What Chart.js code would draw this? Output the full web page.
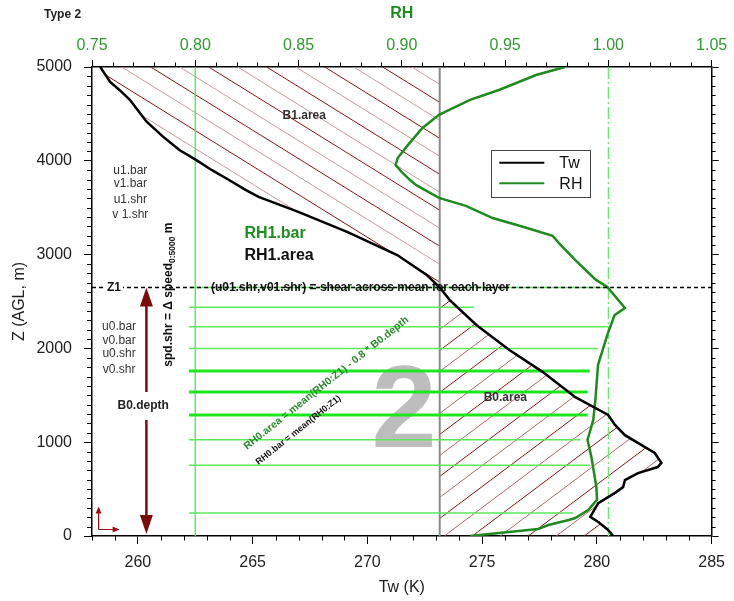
<!DOCTYPE html>
<html>
<head>
<meta charset="utf-8">
<script src="https://cdn.jsdelivr.net/npm/chart.js@4.4.0/dist/chart.umd.min.js"></script>
<style>
  html, body { margin: 0; padding: 0; background: #fff; }
  #wrap { width: 734px; height: 601px; }
</style>
</head>
<body>
<div id="wrap"><canvas id="myChart"></canvas></div>
<script>
const FONT = 'Arial, "Liberation Sans", sans-serif';

// wet-bulb temperature profile (K) vs height (m AGL)
const twZ = [5000, 4840, 4750, 4650, 4420, 4260, 4115, 4010, 3900, 3795, 3690, 3615, 3455, 3240, 2995, 2780, 2650, 2515, 2250, 1985,
  1750, 1480, 1290, 1185, 1075, 885, 780, 735, 670, 595, 520, 460, 350, 205, 150, 65, 0];
const twK = [258.36, 258.79, 259.22, 259.65, 260.37, 261.08, 261.81, 262.53, 263.23, 263.97, 264.69, 265.26, 266.99, 269.14, 271.30, 272.60, 273.15, 273.59, 274.75, 276.17,
  277.63, 279.06, 280.49, 280.79, 281.22, 282.52, 282.81, 282.65, 281.79, 281.22, 281.14, 280.79, 280.06, 279.71, 280.06, 280.49, 280.71];

// relative humidity profile
const rhZ = [5000, 4915, 4755, 4650, 4490, 4350, 4170, 4030, 3955, 3880, 3795, 3740, 3605, 3520, 3390, 3295, 3200, 3100, 2940, 2730,
  2655, 2430, 2355, 2145, 1825, 1450, 1240, 1130, 1025, 840, 520, 385, 277, 192, 171, 117, 75, 32, 0];
const rhV = [0.979, 0.965, 0.947, 0.933, 0.918, 0.910, 0.903, 0.898, 0.897, 0.900, 0.904, 0.907, 0.918, 0.931, 0.944, 0.959, 0.973, 0.977, 0.984, 0.994,
  0.9995, 1.008, 1.003, 0.9995, 0.995, 0.9937, 0.9927, 0.9913, 0.9899, 0.9918, 0.9942, 0.9945, 0.9902, 0.984, 0.9808, 0.971, 0.966, 0.947, 0.933];

// RH sample levels below Z1
const levelZ = [2650, 2440, 2230, 2000, 1760, 1535, 1290, 1025, 755, 245];
const levelRH = [1.0, 0.935, 1.0, 0.995, 0.991, 0.990, 0.990, 0.9865, 0.991, 0.983];
const levelWide = [false, false, false, false, true, true, true, false, false, false];
const levelStart = 0.797;

// reference values
const z1 = 2650;
const freezeK = 273.15;
const rhRefs = [0.80, 1.00];

// tick labels
const twTicks = [260, 265, 270, 275, 280, 285];
const rhTicks = [0.75, 0.80, 0.85, 0.90, 0.95, 1.00, 1.05];
const zTicks = [0, 1000, 2000, 3000, 4000, 5000];

function levelData(wide) {
  const out = [];
  levelZ.forEach((z, i) => {
    if (levelWide[i] !== wide) return;
    out.push({x: levelStart, y: z}, {x: levelRH[i], y: z}, {x: null, y: null});
  });
  return out;
}

function hatch(ctx, poly, slope, gap, up, colors) {
  ctx.save();
  ctx.beginPath();
  poly.forEach((p, i) => i ? ctx.lineTo(p.x, p.y) : ctx.moveTo(p.x, p.y));
  ctx.closePath();
  ctx.clip();
  const xs = poly.map(p => p.x), ys = poly.map(p => p.y);
  const x0 = Math.min(...xs), x1 = Math.max(...xs), y0 = Math.min(...ys), y1 = Math.max(...ys);
  const run = (y1 - y0) / slope;
  ctx.lineWidth = 1;
  let k = 0;
  for (let sx = x0 - run; sx <= x1; sx += gap, k++) {
    ctx.strokeStyle = colors[k % colors.length];
    ctx.beginPath();
    if (up) { ctx.moveTo(sx, y1); ctx.lineTo(sx + run, y0); }
    else { ctx.moveTo(sx, y0); ctx.lineTo(sx + run, y1); }
    ctx.stroke();
  }
  ctx.restore();
}

function arrowHead(ctx, x, tipY, dir) {
  ctx.beginPath();
  ctx.moveTo(x, tipY);
  ctx.lineTo(x - 6.5, tipY + dir * 19);
  ctx.lineTo(x + 6.5, tipY + dir * 19);
  ctx.closePath();
  ctx.fill();
}

function rotText(ctx, txt, x, y, deg, font, color) {
  ctx.save();
  ctx.translate(x, y);
  ctx.rotate(deg * Math.PI / 180);
  ctx.font = font;
  ctx.fillStyle = color;
  ctx.textAlign = 'left';
  ctx.textBaseline = 'alphabetic';
  ctx.fillText(txt, 0, 0);
  ctx.restore();
}

const sounding = {
  id: 'sounding',
  beforeDatasetsDraw(chart) {
    const {ctx, chartArea: a, scales} = chart;
    const X = v => scales.x.getPixelForValue(v);
    const R = v => scales.rh.getPixelForValue(v);
    const Y = v => scales.y.getPixelForValue(v);
    ctx.save();

    // B1 / B0 hatched areas between Tw and 0 degC
    const pts = chart.getDatasetMeta(0).data;
    const iz = twZ.indexOf(z1);
    const above = pts.slice(0, iz + 1).map(p => ({x: p.x, y: p.y}));
    above.push({x: X(freezeK), y: Y(5000)});
    const below = pts.slice(iz).map(p => ({x: p.x, y: p.y}));
    below.push({x: X(freezeK), y: Y(0)});
    hatch(ctx, above, 0.62, 29, false, ['#8b1414', '#c99a9a']);
    hatch(ctx, below, 0.75, 28, true, ['#b06a6a', '#8b1414']);

    // big type number
    ctx.fillStyle = '#bdbdbd';
    ctx.font = 'bold 117px ' + FONT;
    ctx.textAlign = 'center';
    ctx.textBaseline = 'alphabetic';
    ctx.fillText('2', X(271.6), Y(950));

    // 0 degC line
    ctx.strokeStyle = '#8a8a8a';
    ctx.lineWidth = 2;
    ctx.beginPath();
    ctx.moveTo(X(freezeK), a.top); ctx.lineTo(X(freezeK), a.bottom);
    ctx.stroke();

    // RH reference lines
    ctx.strokeStyle = '#3ef03e';
    ctx.lineWidth = 1.3;
    ctx.beginPath();
    ctx.moveTo(R(rhRefs[0]), a.top); ctx.lineTo(R(rhRefs[0]), a.bottom);
    ctx.stroke();
    ctx.strokeStyle = '#66ee66';
    ctx.setLineDash([12, 3, 2, 3]);
    ctx.beginPath();
    ctx.moveTo(R(rhRefs[1]), a.top); ctx.lineTo(R(rhRefs[1]), a.bottom);
    ctx.stroke();
    ctx.setLineDash([]);
    ctx.restore();
  },
  afterDatasetsDraw(chart) {
    const {ctx, chartArea: a, scales} = chart;
    const X = v => scales.x.getPixelForValue(v);
    const Y = v => scales.y.getPixelForValue(v);
    ctx.save();

    // Z1 line
    ctx.strokeStyle = '#000';
    ctx.lineWidth = 1.5;
    ctx.setLineDash([4, 3]);
    ctx.beginPath();
    ctx.moveTo(a.left, Y(z1)); ctx.lineTo(a.right, Y(z1));
    ctx.stroke();
    ctx.setLineDash([]);

    ctx.textBaseline = 'middle';
    ctx.font = 'bold 12px ' + FONT;
    ctx.textAlign = 'center';
    const zw = ctx.measureText('Z1').width;
    ctx.fillStyle = '#fff';
    ctx.fillRect(X(258.96) - zw / 2 - 2, Y(z1) - 6, zw + 4, 12);
    ctx.fillStyle = '#111';
    ctx.fillText('Z1', X(258.96), Y(z1));
    ctx.textAlign = 'left';
    ctx.fillText('(u01.shr,v01.shr) = shear across mean for each layer', X(263.18), Y(z1));

    // wind labels
    ctx.font = '12px ' + FONT;
    ctx.fillStyle = '#333';
    ctx.textAlign = 'center';
    ['u1.bar', 'v1.bar', 'u1.shr', 'v 1.shr'].forEach((t, i) => ctx.fillText(t, X(259.67), Y([3894, 3753, 3582, 3430][i])));
    ['u0.bar', 'v0.bar', 'u0.shr', 'v0.shr'].forEach((t, i) => ctx.fillText(t, X(259.18), Y([2231, 2082, 1948, 1777][i])));

    // B0 depth arrow
    const ax = X(260.37);
    ctx.fillStyle = '#7a0c0c';
    ctx.strokeStyle = '#7a0c0c';
    ctx.lineWidth = 2.5;
    ctx.beginPath();
    ctx.moveTo(ax, Y(z1) + 18); ctx.lineTo(ax, Y(1535));
    ctx.moveTo(ax, Y(1237)); ctx.lineTo(ax, Y(0) - 18);
    ctx.stroke();
    arrowHead(ctx, ax, Y(z1), 1);
    arrowHead(ctx, ax, Y(0) - 2, -1);
    ctx.font = 'bold 12px ' + FONT;
    ctx.fillStyle = '#222';
    ctx.fillText('B0.depth', X(260.23), Y(1386));

    // small axes icon
    const ox = a.left + 6.6, oy = a.bottom - 6.5;
    ctx.strokeStyle = '#9a1010';
    ctx.fillStyle = '#9a1010';
    ctx.lineWidth = 1.2;
    ctx.beginPath();
    ctx.moveTo(ox, oy); ctx.lineTo(ox, oy - 19);
    ctx.moveTo(ox, oy); ctx.lineTo(ox + 16, oy);
    ctx.stroke();
    ctx.beginPath(); ctx.moveTo(ox, oy - 23); ctx.lineTo(ox - 3, oy - 16); ctx.lineTo(ox + 3, oy - 16); ctx.closePath(); ctx.fill();
    ctx.beginPath(); ctx.moveTo(ox + 21, oy); ctx.lineTo(ox + 14, oy - 3); ctx.lineTo(ox + 14, oy + 3); ctx.closePath(); ctx.fill();

    // vertical speed-shear label
    ctx.save();
    ctx.translate(X(261.30), Y(1805));
    ctx.rotate(-Math.PI / 2);
    ctx.textAlign = 'left';
    ctx.textBaseline = 'alphabetic';
    ctx.fillStyle = '#111';
    ctx.font = 'bold 12px ' + FONT;
    let t = 'spd.shr = \u0394 speed';
    ctx.fillText(t, 0, 4);
    let w = ctx.measureText(t).width;
    ctx.font = 'bold 8.5px ' + FONT;
    ctx.fillText('0:5000', w, 7);
    w += ctx.measureText('0:5000').width;
    ctx.font = 'bold 12px ' + FONT;
    ctx.fillText(' m', w, 4);
    ctx.restore();

    // layer labels
    ctx.textAlign = 'left';
    ctx.font = 'bold 16px ' + FONT;
    ctx.fillStyle = '#1e8c1e';
    ctx.fillText('RH1.bar', X(264.64), Y(3219));
    ctx.fillStyle = '#111';
    ctx.fillText('RH1.area', X(264.64), Y(2988));
    ctx.textAlign = 'center';
    ctx.font = 'bold 12px ' + FONT;
    ctx.fillStyle = '#333';
    ctx.fillText('B1.area', X(267.25), Y(4478));
    ctx.fillText('B0.area', X(276.01), Y(1474));

    rotText(ctx, 'RH0.area = mean(RH0:Z1) - 0.8 * B0.depth', X(264.75), Y(917), -38.5, 'bold 10.5px ' + FONT, '#2a8a2a');
    rotText(ctx, 'RH0.bar = mean(RH0:Z1)', X(265.26), Y(757), -38.5, 'bold 9px ' + FONT, '#111');

    // legend
    const lx = X(275.40), ly = Y(4115);
    ctx.fillStyle = '#fff';
    ctx.fillRect(lx, ly, 99, 47);
    ctx.strokeStyle = '#444';
    ctx.lineWidth = 1;
    ctx.strokeRect(Math.round(lx) + 0.5, Math.round(ly) + 0.5, 99, 47);
    chart.data.datasets.slice(0, 2).forEach((ds, i) => {
      const yy = ly + 12.7 + i * 20.6;
      ctx.strokeStyle = ds.borderColor;
      ctx.lineWidth = 2;
      ctx.beginPath(); ctx.moveTo(lx + 8, yy); ctx.lineTo(lx + 53, yy); ctx.stroke();
      ctx.fillStyle = '#111';
      ctx.font = '16px ' + FONT;
      ctx.textAlign = 'left';
      ctx.textBaseline = 'middle';
      ctx.fillText(ds.label, lx + 68, yy + 1);
    });

    // header
    ctx.font = 'bold 12px ' + FONT;
    ctx.fillStyle = '#222';
    ctx.textAlign = 'left';
    ctx.textBaseline = 'middle';
    ctx.fillText('Type 2', 44, 15);
    ctx.restore();
  },
  afterDraw(chart) {
    const {ctx, chartArea: a, scales} = chart;
    ctx.save();
    ctx.strokeStyle = '#000';
    ctx.lineWidth = 1;
    ctx.beginPath();
    for (let i = 258; i <= 285; i++) {
      if (twTicks.includes(i)) continue;
      const p = Math.round(scales.x.getPixelForValue(i)) + 0.5;
      ctx.moveTo(p, a.bottom); ctx.lineTo(p, a.bottom + 4.5);
    }
    for (let i = 75; i <= 105; i++) {
      if (i % 5 === 0) continue;
      const p = Math.round(scales.rh.getPixelForValue(i / 100)) + 0.5;
      ctx.moveTo(p, a.top); ctx.lineTo(p, a.top - 4.5);
    }
    for (let i = 0; i <= 50; i++) {
      if (i % 10 === 0) continue;
      const p = Math.round(scales.y.getPixelForValue(i * 100)) + 0.5;
      ctx.moveTo(a.left, p); ctx.lineTo(a.left - 5, p);
      ctx.moveTo(a.right, p); ctx.lineTo(a.right + 4, p);
    }
    ctx.stroke();
    ctx.restore();
  }
};

const axisFont = {family: FONT, size: 16};
const ctx = document.getElementById('myChart');

new Chart(ctx, {
  type: 'scatter',
  data: {
    datasets: [
      {
        label: 'Tw',
        data: twK.map((v, i) => ({x: v, y: twZ[i]})),
        xAxisID: 'x', yAxisID: 'y',
        showLine: true, borderColor: '#000', borderWidth: 2.5, pointRadius: 0
      },
      {
        label: 'RH',
        data: rhV.map((v, i) => ({x: v, y: rhZ[i]})),
        xAxisID: 'rh', yAxisID: 'y',
        showLine: true, borderColor: '#1f8a1f', borderWidth: 2.5, pointRadius: 0
      },
      {
        label: 'RH0 levels',
        data: levelData(false),
        xAxisID: 'rh', yAxisID: 'y',
        showLine: true, spanGaps: false, borderColor: '#5be85b', borderWidth: 1.5, pointRadius: 0
      },
      {
        label: 'RH0 levels wide',
        data: levelData(true),
        xAxisID: 'rh', yAxisID: 'y',
        showLine: true, spanGaps: false, borderColor: '#1ee61e', borderWidth: 3, pointRadius: 0
      }
    ]
  },
  options: {
    responsive: true,
    maintainAspectRatio: false,
    animation: false,
    devicePixelRatio: 1,
    layout: {padding: 0},
    plugins: {legend: {display: false}, tooltip: {enabled: false}},
    scales: {
      x: {
        type: 'linear', position: 'bottom', min: 258, max: 285,
        afterBuildTicks: s => { s.ticks = twTicks.map(v => ({value: v})); },
        afterFit: s => { s.height = 65; },
        ticks: {font: axisFont, color: '#222', padding: 9, autoSkip: false, maxRotation: 0, callback: v => String(v)},
        grid: {drawOnChartArea: false, tickLength: 8, color: '#000'},
        border: {color: '#000', width: 1.5},
        title: {display: true, text: 'Tw (K)', font: axisFont, color: '#222', padding: {top: 4, bottom: 4}}
      },
      rh: {
        type: 'linear', position: 'top', min: 0.75, max: 1.05,
        afterBuildTicks: s => { s.ticks = rhTicks.map(v => ({value: v})); },
        afterFit: s => { s.height = 67; },
        ticks: {font: axisFont, color: '#2f9a2f', padding: 4.5, autoSkip: false, maxRotation: 0, callback: v => v.toFixed(2)},
        grid: {drawOnChartArea: false, tickLength: 7, color: '#000'},
        border: {color: '#000', width: 1.5},
        title: {display: true, text: 'RH', font: {family: FONT, size: 16, weight: 'bold'}, color: '#1e8c1e', padding: {top: 4, bottom: 4}}
      },
      y: {
        type: 'linear', position: 'left', min: 0, max: 5000,
        afterBuildTicks: s => { s.ticks = zTicks.map(v => ({value: v})); },
        afterFit: s => { s.width = 92; },
        ticks: {font: axisFont, color: '#222', padding: 12, autoSkip: false, callback: v => String(v)},
        grid: {drawOnChartArea: false, tickLength: 8, color: '#000'},
        border: {color: '#000', width: 1.5},
        title: {display: true, text: 'Z (AGL, m)', font: axisFont, color: '#222', padding: {top: 10, bottom: 4}}
      },
      y2: {
        type: 'linear', position: 'right', min: 0, max: 5000,
        afterBuildTicks: s => { s.ticks = zTicks.map(v => ({value: v})); },
        afterFit: s => { s.width = 17; },
        ticks: {display: false},
        grid: {drawOnChartArea: false, tickLength: 7, color: '#000'},
        border: {color: '#000', width: 1.5}
      }
    }
  },
  plugins: [sounding]
});
</script>
</body>
</html>
